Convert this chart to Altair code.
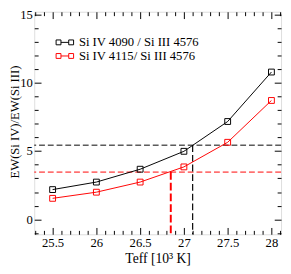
import altair as alt
import pandas as pd

# ---- data ----
teff = [25.5, 26.0, 26.5, 27.0, 27.5, 28.0]
ratio_4090 = [2.18, 2.73, 3.67, 4.98, 7.16, 10.78]
ratio_4115 = [1.54, 1.99, 2.73, 3.84, 5.64, 8.70]
series_names = ["Si IV 4090 / Si III 4576", "Si IV 4115/ Si III 4576"]
series_colors = ["black", "red"]
obs_ratio = [5.43, 3.46]        # observed ratios (horizontal dashed)
teff_derived = [27.10, 26.85]   # derived Teff (vertical dashed)
x_domain = [25.29, 28.11]
y_domain = [-1.09, 15.19]
x_major = [25.5, 26.0, 26.5, 27.0, 27.5, 28.0]
y_major = [0, 5, 10, 15]
x_minor = [25.3, 25.4, 25.5, 25.6, 25.7, 25.8, 25.9, 26.0, 26.1, 26.2, 26.3,
           26.4, 26.5, 26.6, 26.7, 26.8, 26.9, 27.0, 27.1, 27.2, 27.3, 27.4,
           27.5, 27.6, 27.7, 27.8, 27.9, 28.0, 28.1]
y_minor = [-1, 0, 1, 2, 3, 4, 5, 6, 7, 8, 9, 10, 11, 12, 13, 14, 15]

W, H = 254, 229
FONT = "Liberation Serif"

rows = []
for name, vals in zip(series_names, [ratio_4090, ratio_4115]):
    for t, v in zip(teff, vals):
        rows.append({"t": t, "r": v, "series": name})
df = pd.DataFrame(rows)

obs = pd.DataFrame({
    "series": series_names,
    "r": obs_ratio,
    "t": teff_derived,
    "rmin": [y_domain[0]] * len(series_names),
})

xs = alt.Scale(domain=x_domain, nice=False, zero=False)
ys = alt.Scale(domain=y_domain, nice=False, zero=False)
cs = alt.Scale(domain=series_names, range=series_colors)

x_tick_test = "abs(datum.value*2 - round(datum.value*2)) < 0.01"
y_tick_test = "abs(datum.value/5 - round(datum.value/5)) < 0.01"
x_tsize = {"condition": {"test": x_tick_test, "value": 7}, "value": 4}
y_tsize = {"condition": {"test": y_tick_test, "value": 7}, "value": 4}

legend = alt.Legend(
    title=None, orient="none", legendX=25, legendY=25,
    symbolType="M-1.8,-0.5H-0.8V0.5H-1.8Z M-0.8,0H0.8 M0.8,-0.5H1.8V0.5H0.8Z",
    symbolSize=100, symbolStrokeWidth=1, symbolFillColor="transparent",
    labelFont=FONT, labelFontSize=13, labelColor="black", labelOffset=8,
    rowPadding=0, labelLimit=300,
)

main_x = alt.Axis(orient="bottom", values=x_major, format="~g", ticks=False,
                  domain=False, grid=False, labelFont=FONT, labelFontSize=13,
                  labelColor="black", labelPadding=3, labelFlush=False,
                  title="Teff [10³ K]", titleFont=FONT, titleFontSize=14,
                  titleFontWeight="normal", titleColor="black", titlePadding=2)
main_y = alt.Axis(orient="left", values=y_major, ticks=False, domain=False,
                  grid=False, labelFont=FONT, labelFontSize=13,
                  labelColor="black", labelPadding=2, labelFlush=False,
                  title="EW(Si IV)/EW(Si III)", titleFont=FONT,
                  titleFontSize=13, titleFontWeight="normal",
                  titleColor="black", titleAngle=270, titleAlign="center",
                  titleBaseline="alphabetic", titleX=-16, titleY=113)

def tick_axis(orient, off, vals, tsize):
    return alt.Axis(orient=orient, offset=off, values=vals, labels=False,
                    domain=False, grid=False, title=None, tickColor="black",
                    tickWidth=1, tickSize=tsize)

bot_in = tick_axis("top", -H, x_minor, x_tsize)
top_in = tick_axis("bottom", -H, x_minor, x_tsize)
left_in = tick_axis("right", -W, y_minor, y_tsize)
right_in = tick_axis("left", -W, y_minor, y_tsize)

lines = alt.Chart(df).mark_line(strokeWidth=1).encode(
    x=alt.X("t:Q", scale=xs, axis=main_x),
    y=alt.Y("r:Q", scale=ys, axis=main_y),
    color=alt.Color("series:N", scale=cs, legend=legend, sort=series_names),
)

points = alt.Chart(df).mark_point(shape="square", filled=False, size=36,
                                  strokeWidth=1, opacity=1).encode(
    x=alt.X("t:Q", scale=xs, axis=bot_in),
    y=alt.Y("r:Q", scale=ys, axis=left_in),
    color=alt.Color("series:N", scale=cs, legend=legend, sort=series_names),
)

def hrule(i):
    return alt.Chart(obs).transform_filter(
        alt.datum.series == series_names[i]
    ).mark_rule(strokeWidth=1, strokeDash=[6, 3], color=series_colors[i]).encode(
        y=alt.Y("r:Q", scale=ys, axis=None),
    )

vblack = alt.Chart(obs).transform_filter(
    alt.datum.series == series_names[0]
).mark_rule(strokeWidth=1.2, strokeDash=[7, 3], color=series_colors[0]).encode(
    x=alt.X("t:Q", scale=xs, axis=top_in),
    y=alt.Y("r:Q", scale=ys, axis=right_in),
    y2="rmin:Q",
)

vred = alt.Chart(obs).transform_filter(
    alt.datum.series == series_names[1]
).mark_rule(strokeWidth=2, strokeDash=[8, 3], color=series_colors[1]).encode(
    x=alt.X("t:Q", scale=xs, axis=None),
    y=alt.Y("r:Q", scale=ys, axis=None),
    y2="rmin:Q",
)

chart = alt.layer(hrule(0), hrule(1), vblack, vred, lines, points).resolve_axis(
    x="independent", y="independent"
).properties(
    width=W, height=H,
    autosize=alt.AutoSizeParams(type="none"),
    padding={"left": 27, "top": 0, "right": 2, "bottom": 37},
).configure_view(stroke="black", strokeWidth=1).configure(background="white")

chart.save("out.html", embed_options={"renderer": "svg", "actions": False})
